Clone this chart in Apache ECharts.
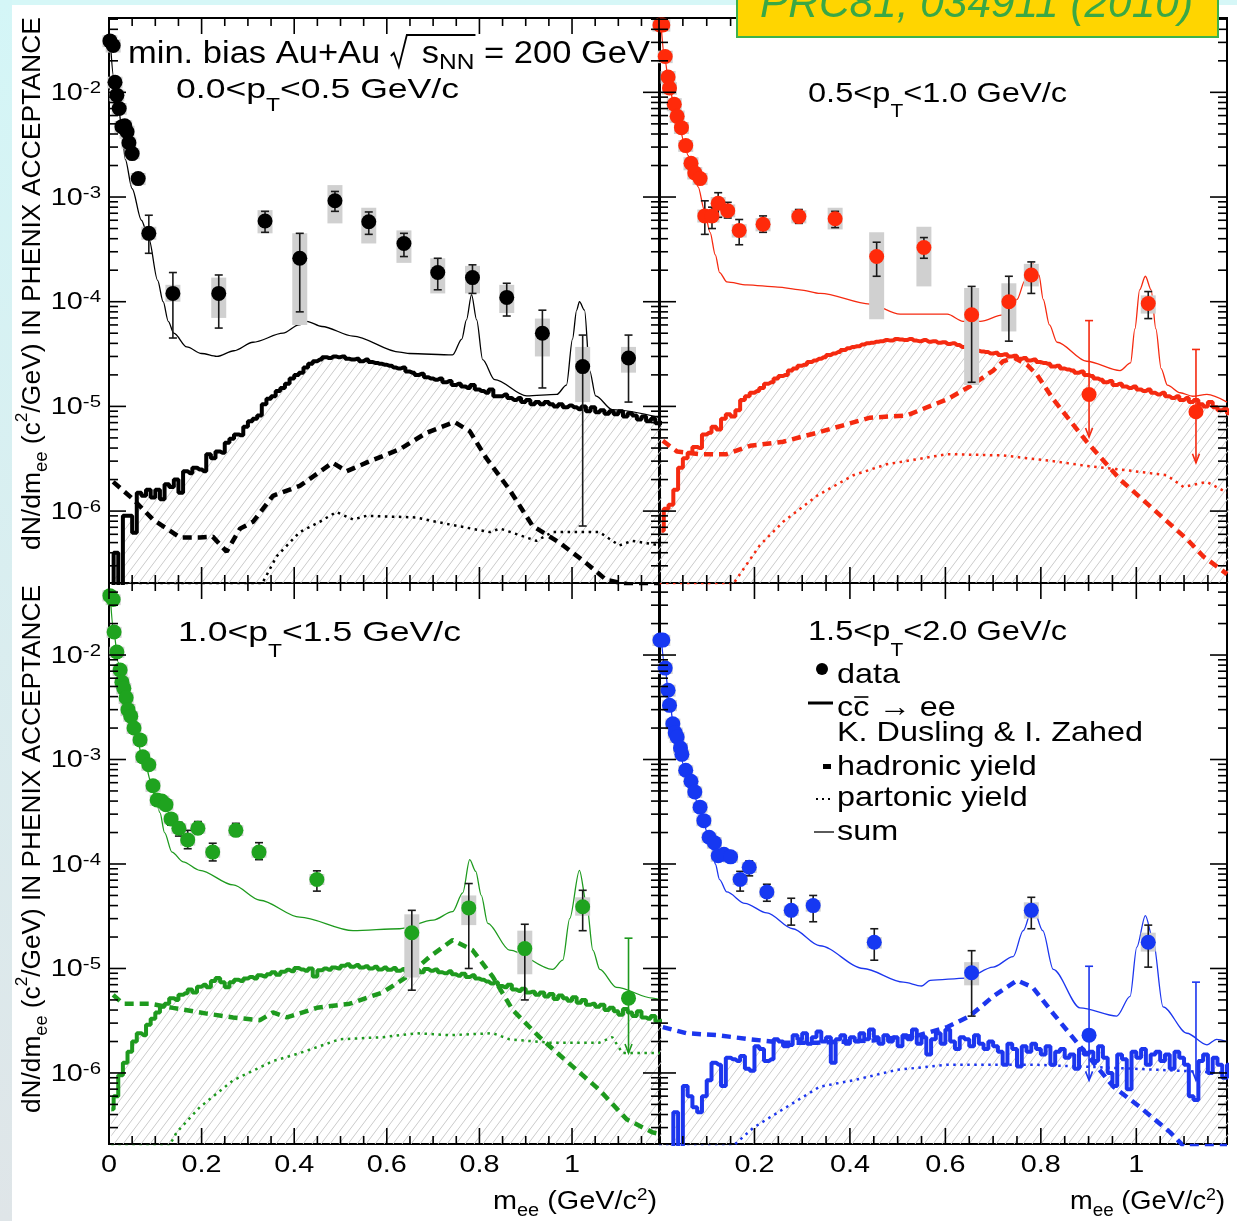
<!DOCTYPE html>
<html>
<head>
<meta charset="utf-8">
<title>Dielectron invariant mass spectra in PHENIX acceptance</title>
<script src="https://cdn.jsdelivr.net/npm/echarts@6/dist/echarts.min.js"></script>
<style>
  html, body { margin: 0; padding: 0; background: #ffffff; }
  #chart { width: 1237px; height: 1221px; }
</style>
</head>
<body>
<div id="chart"></div>
<script>
// ---------------------------------------------------------------------------
// Data: dN/dm_ee (c^2/GeV) in PHENIX acceptance, min. bias Au+Au 200 GeV
// ---------------------------------------------------------------------------

// Panel 1: 0.0 < pT < 0.5 GeV/c
const P1_MASS    = [0.002, 0.009, 0.013, 0.017, 0.022, 0.028, 0.034, 0.039, 0.043, 0.050, 0.063, 0.086, 0.138, 0.237, 0.337, 0.412, 0.488, 0.561, 0.637, 0.710, 0.785, 0.859, 0.936, 1.023, 1.122];
const P1_YIELD   = [0.031, 0.028, 0.0125, 0.0094, 0.0070, 0.0047, 0.0048, 0.0042, 0.0033, 0.0026, 0.0015, 4.5e-4, 1.2e-4, 1.2e-4, 5.9e-4, 2.6e-4, 9.2e-4, 5.8e-4, 3.6e-4, 1.9e-4, 1.7e-4, 1.1e-4, 5.0e-5, 2.4e-5, 2.9e-5];
const P1_STAT_LO = [0.029, 0.026, 0.0117, 0.0088, 0.0066, 0.0044, 0.0045, 0.0039, 0.0031, 0.0024, 0.0014, 2.9e-4, 4.5e-5, 5.6e-5, 4.6e-4, 8.0e-5, 7.3e-4, 4.4e-4, 2.7e-4, 1.3e-4, 1.2e-4, 7.3e-5, 1.5e-5, 7.2e-7, 1.1e-5];
const P1_STAT_HI = [0.033, 0.030, 0.0133, 0.0100, 0.0074, 0.0050, 0.0051, 0.0045, 0.0035, 0.0028, 0.0016, 6.7e-4, 1.9e-4, 1.8e-4, 7.3e-4, 4.5e-4, 1.13e-3, 7.2e-4, 4.5e-4, 2.6e-4, 2.25e-4, 1.5e-4, 8.3e-5, 4.8e-5, 4.8e-5];
const P1_SYS_LO  = [0.027, 0.024, 0.0109, 0.0082, 0.0061, 0.0041, 0.0042, 0.0036, 0.0029, 0.0023, 0.0013, 3.9e-4, 1.0e-4, 7.0e-5, 4.5e-4, 6.0e-5, 5.6e-4, 3.6e-4, 2.35e-4, 1.2e-4, 1.2e-4, 7.8e-5, 3.0e-5, 1.1e-5, 2.1e-5];
const P1_SYS_HI  = [0.035, 0.032, 0.0141, 0.0106, 0.0079, 0.0053, 0.0054, 0.0048, 0.0037, 0.0029, 0.0017, 5.2e-4, 1.45e-4, 1.7e-4, 7.5e-4, 4.5e-4, 1.3e-3, 7.9e-4, 4.8e-4, 2.6e-4, 2.2e-4, 1.45e-4, 6.9e-5, 3.7e-5, 3.7e-5];
const P1_UL_MASS = [], P1_UL_YIELD = [], P1_UL_TOP = [], P1_UL_TIP = [];
const P1_SUM_MASS = [0.003, 0.010, 0.020, 0.030, 0.035, 0.050, 0.070, 0.086, 0.105, 0.117, 0.128, 0.140, 0.168, 0.200, 0.233, 0.270, 0.311, 0.376, 0.410, 0.427, 0.460, 0.527, 0.628, 0.649, 0.742, 0.762, 0.772, 0.783, 0.794, 0.807, 0.833, 0.902, 0.967, 0.988, 1.001, 1.010, 1.016, 1.027, 1.038, 1.051, 1.087, 1.190];
const P1_SUM      = [0.030, 0.014, 0.0075, 0.0035, 0.0023, 0.0012, 6.0e-4, 4.0e-4, 1.6e-4, 1.0e-4, 6.5e-5, 5.0e-5, 3.7e-5, 3.2e-5, 3.0e-5, 3.4e-5, 4.1e-5, 5.0e-5, 6.0e-5, 6.5e-5, 5.8e-5, 4.7e-5, 3.3e-5, 3.2e-5, 3.1e-5, 4.4e-5, 6.7e-5, 1.17e-4, 6.7e-5, 2.8e-5, 1.8e-5, 1.26e-5, 1.3e-5, 1.6e-5, 4.4e-5, 8.3e-5, 1.0e-4, 8.3e-5, 2.2e-5, 1.26e-5, 9.3e-6, 7.8e-6];
const P1_HAD_MASS = [0.009, 0.052, 0.095, 0.153, 0.196, 0.224, 0.254, 0.283, 0.311, 0.354, 0.412, 0.483, 0.513, 0.556, 0.628, 0.686, 0.746, 0.779, 0.815, 0.865, 0.915, 0.973, 1.030, 1.074, 1.120, 1.190];
const P1_HAD      = [1.9e-6, 1.3e-6, 8.3e-7, 5.6e-7, 5.6e-7, 5.7e-7, 4.1e-7, 6.8e-7, 7.9e-7, 1.4e-6, 1.74e-6, 2.9e-6, 2.4e-6, 2.9e-6, 3.9e-6, 5.6e-6, 7.1e-6, 5.8e-6, 3.2e-6, 1.6e-6, 7.2e-7, 5.0e-7, 3.2e-7, 2.2e-7, 2.0e-7, 2.0e-7];
const P1_PART_MASS = [0.005, 0.330, 0.362, 0.412, 0.455, 0.491, 0.527, 0.556, 0.664, 0.700, 0.822, 0.845, 0.923, 0.958, 1.059, 1.102, 1.130, 1.190];
const P1_PART      = [2.0e-7, 2.0e-7, 3.7e-7, 6.3e-7, 7.9e-7, 9.8e-7, 8.3e-7, 9.0e-7, 8.7e-7, 8.0e-7, 6.3e-7, 6.8e-7, 5.2e-7, 6.3e-7, 6.3e-7, 4.7e-7, 5.2e-7, 4.7e-7];
// c cbar -> ee histogram, 0.01 GeV/c^2 bins, in units of 1e-6
const P1_CC = [
  0.18, 0.4, 0.18, 0.9, 0.9, 0.62, 1.5, 1.4, 1.6, 1.35,
  1.6, 1.3, 1.8, 1.7, 2.0, 1.5, 2.4, 2.3, 2.6, 2.5,
  2.4, 3.5, 3.2, 3.7, 3.6, 4.5, 4.9, 5.4, 5.3, 6.4,
  7.2, 7.6, 8.2, 10.5, 11.8, 12.5, 14, 15, 16.5, 18.5,
  20, 21, 23.5, 25.5, 27, 28, 29.5, 29, 30, 29.5,
  30, 28.5, 28, 28.5, 27, 28, 26.5, 26, 25.5, 25,
  24.5, 23.5, 23, 23.5, 21.5, 21, 20, 20.5, 19, 18.5,
  18, 18.5, 17, 17.5, 16, 16.5, 15.5, 15, 16, 14.5,
  14, 13.5, 14.5, 12.5, 12.5, 13, 12, 11.5, 12, 11,
  11.5, 10.5, 11, 10.5, 11, 10.5, 10, 10.5, 9.8, 10.2,
  9.8, 9.4, 10, 9, 9.8, 8.8, 9.2, 8.5, 9, 8.4,
  9, 8, 8.6, 8.2, 7.5, 8, 7.2, 7.6, 6.9, 7
];

// Panel 2: 0.5 < pT < 1.0 GeV/c
const P2_MASS    = [0.002, 0.008, 0.013, 0.019, 0.022, 0.032, 0.038, 0.047, 0.056, 0.067, 0.075, 0.086, 0.096, 0.111, 0.124, 0.144, 0.168, 0.218, 0.293, 0.369, 0.456, 0.555, 0.655, 0.733, 0.780, 1.025];
const P2_YIELD   = [0.044, 0.044, 0.022, 0.014, 0.011, 0.0077, 0.0059, 0.0046, 0.0031, 0.0021, 0.0017, 0.0015, 6.6e-4, 6.6e-4, 8.7e-4, 7.4e-4, 4.8e-4, 5.5e-4, 6.5e-4, 6.2e-4, 2.7e-4, 3.3e-4, 7.5e-5, 1.0e-4, 1.8e-4, 9.6e-5];
const P2_STAT_LO = [0.041, 0.041, 0.0205, 0.013, 0.0102, 0.0072, 0.0055, 0.0043, 0.0029, 0.00195, 0.0016, 0.0014, 4.4e-4, 5.0e-4, 6.4e-4, 6.3e-4, 3.5e-4, 4.6e-4, 5.6e-4, 5.1e-4, 1.75e-4, 2.6e-4, 1.7e-5, 4.2e-5, 1.2e-4, 6.9e-5];
const P2_STAT_HI = [0.047, 0.047, 0.0235, 0.015, 0.0118, 0.0082, 0.0063, 0.0049, 0.0033, 0.00225, 0.0018, 0.0016, 9.2e-4, 8.0e-4, 1.1e-3, 8.9e-4, 6.1e-4, 6.6e-4, 7.6e-4, 7.3e-4, 3.7e-4, 4.1e-4, 1.4e-4, 1.75e-4, 2.4e-4, 1.25e-4];
const P2_SYS_LO  = [0.038, 0.038, 0.019, 0.0121, 0.0095, 0.0066, 0.0051, 0.0040, 0.0027, 0.0018, 0.00147, 0.0013, 5.7e-4, 5.7e-4, 7.5e-4, 6.4e-4, 4.1e-4, 4.7e-4, 5.6e-4, 4.9e-4, 6.8e-5, 1.4e-4, 1.6e-5, 5.2e-5, 1.4e-4, 7.7e-5];
const P2_SYS_HI  = [0.050, 0.050, 0.025, 0.0160, 0.0125, 0.0088, 0.0067, 0.0052, 0.0035, 0.0024, 0.00193, 0.0017, 7.6e-4, 7.6e-4, 1.0e-3, 8.5e-4, 5.5e-4, 6.3e-4, 7.5e-4, 7.9e-4, 4.6e-4, 5.2e-4, 1.35e-4, 1.5e-4, 2.3e-4, 1.15e-4];
const P2_UL_MASS = [0.901, 1.125], P2_UL_YIELD = [1.3e-5, 8.9e-6], P2_UL_TOP = [6.6e-5, 3.5e-5], P2_UL_TIP = [5.1e-6, 2.9e-6];
const P2_SUM_MASS = [0.005, 0.012, 0.022, 0.032, 0.042, 0.051, 0.061, 0.071, 0.082, 0.095, 0.107, 0.118, 0.127, 0.142, 0.184, 0.249, 0.295, 0.338, 0.442, 0.505, 0.604, 0.637, 0.673, 0.721, 0.750, 0.767, 0.784, 0.796, 0.805, 0.818, 0.834, 0.896, 0.966, 0.988, 0.997, 1.007, 1.019, 1.031, 1.041, 1.052, 1.065, 1.092, 1.118, 1.148, 1.190];
const P2_SUM      = [0.040, 0.021, 0.011, 0.0075, 0.0052, 0.0035, 0.0025, 0.0019, 1.25e-3, 7.5e-4, 4.6e-4, 2.8e-4, 1.9e-4, 1.55e-4, 1.45e-4, 1.38e-4, 1.3e-4, 1.2e-4, 9.5e-5, 7.6e-5, 7.6e-5, 6.5e-5, 6.5e-5, 7.5e-5, 1.05e-4, 1.6e-4, 2.3e-4, 1.8e-4, 1.05e-4, 6.0e-5, 4.1e-5, 2.7e-5, 2.2e-5, 2.6e-5, 5.5e-5, 1.3e-4, 1.75e-4, 1.3e-4, 5.5e-5, 2.3e-5, 1.6e-5, 1.35e-5, 1.25e-5, 1.3e-5, 1.1e-5];
const P2_HAD_MASS = [0.008, 0.038, 0.086, 0.142, 0.191, 0.260, 0.331, 0.442, 0.519, 0.604, 0.651, 0.700, 0.721, 0.745, 0.771, 0.792, 0.826, 0.896, 0.966, 1.035, 1.106, 1.140, 1.190];
const P2_HAD      = [4.7e-6, 3.7e-6, 3.5e-6, 3.5e-6, 4.2e-6, 4.6e-6, 5.6e-6, 7.8e-6, 8.2e-6, 1.17e-5, 1.55e-5, 2.2e-5, 2.7e-5, 2.9e-5, 2.5e-5, 2.0e-5, 1.17e-5, 4.6e-6, 2.0e-6, 1.05e-6, 5.4e-7, 3.7e-7, 2.5e-7];
const P2_PART_MASS = [0.000, 0.155, 0.211, 0.260, 0.331, 0.407, 0.477, 0.604, 0.721, 0.826, 0.896, 0.966, 1.064, 1.099, 1.148, 1.190];
const P2_PART      = [2.0e-7, 2.0e-7, 4.7e-7, 7.9e-7, 1.4e-6, 2.2e-6, 2.8e-6, 3.5e-6, 3.4e-6, 3.0e-6, 2.7e-6, 2.5e-6, 2.2e-6, 1.7e-6, 1.9e-6, 1.5e-6];
const P2_CC = [
  0.65, 1.05, 1.15, 1.6, 2.6, 3.2, 3.6, 4.1, 4.0, 5.4,
  5.6, 6.4, 6.0, 7.6, 8.4, 8.0, 9.2, 11.5, 12.5, 13.5,
  14, 15, 16.5, 17, 18.5, 19.5, 20, 22, 23, 24.5,
  25, 26.5, 27.5, 28.5, 29.5, 31, 32, 33, 34.5, 36,
  37, 37.5, 39, 40, 40.5, 41.5, 42, 43, 42.5, 44,
  43.5, 43, 44, 42.5, 42, 43, 41.5, 42, 40.5, 41,
  39.5, 40, 38.5, 37, 37.5, 35.5, 34, 33.5, 33, 32,
  32.5, 31, 31.5, 30, 30.5, 28.5, 29, 27.5, 28, 26.5,
  26, 25.5, 24, 24.5, 23, 22.5, 22, 21, 21.5, 20,
  19.5, 18.5, 18, 17, 17.5, 16, 16.5, 15.5, 15, 15.5,
  14.5, 14, 14.5, 13.5, 13, 13.5, 12.5, 12, 12.5, 11.5,
  12, 11, 11.5, 10.5, 10, 11, 9.8, 9.2, 9.5, 8.6
];

// Panel 3: 1.0 < pT < 1.5 GeV/c
const P3_MASS    = [0.002, 0.009, 0.011, 0.017, 0.024, 0.028, 0.032, 0.037, 0.041, 0.047, 0.054, 0.067, 0.073, 0.086, 0.095, 0.104, 0.114, 0.123, 0.134, 0.151, 0.170, 0.192, 0.224, 0.274, 0.324, 0.449, 0.654, 0.777, 0.898, 1.023];
const P3_YIELD   = [0.037, 0.034, 0.0166, 0.0107, 0.0072, 0.0055, 0.0048, 0.0039, 0.0030, 0.0026, 0.0020, 0.00154, 0.00106, 8.9e-4, 5.6e-4, 4.1e-4, 4.0e-4, 3.7e-4, 2.7e-4, 2.2e-4, 1.7e-4, 2.2e-4, 1.3e-4, 2.1e-4, 1.3e-4, 7.1e-5, 2.2e-5, 3.8e-5, 1.55e-5, 3.9e-5];
const P3_STAT_LO = [0.0348, 0.032, 0.0156, 0.0101, 0.0068, 0.0052, 0.0045, 0.0037, 0.0028, 0.00245, 0.00188, 0.00145, 0.00100, 8.4e-4, 5.3e-4, 3.85e-4, 3.75e-4, 3.45e-4, 2.35e-4, 1.85e-4, 1.4e-4, 1.95e-4, 1.07e-4, 1.85e-4, 1.1e-4, 5.5e-5, 6.2e-6, 1.0e-5, 5.0e-6, 2.3e-5];
const P3_STAT_HI = [0.0392, 0.036, 0.0176, 0.0113, 0.0076, 0.0058, 0.0051, 0.0041, 0.0032, 0.00275, 0.00212, 0.00163, 0.00112, 9.4e-4, 5.9e-4, 4.35e-4, 4.25e-4, 3.95e-4, 3.0e-4, 2.5e-4, 2.1e-4, 2.55e-4, 1.58e-4, 2.45e-4, 1.6e-4, 8.6e-5, 3.6e-5, 6.5e-5, 2.65e-5, 5.6e-5];
const P3_SYS_LO  = [0.0326, 0.030, 0.0146, 0.0094, 0.0063, 0.0048, 0.0042, 0.0034, 0.0026, 0.0023, 0.00176, 0.00136, 9.3e-4, 7.8e-4, 4.9e-4, 3.6e-4, 3.5e-4, 3.25e-4, 2.4e-4, 1.95e-4, 1.5e-4, 1.95e-4, 1.15e-4, 1.85e-4, 1.15e-4, 6.3e-5, 8.2e-6, 2.6e-5, 8.8e-6, 3.2e-5];
const P3_SYS_HI  = [0.0414, 0.038, 0.0186, 0.0120, 0.0081, 0.0062, 0.0054, 0.0044, 0.0034, 0.0029, 0.00224, 0.00172, 1.19e-3, 1.0e-3, 6.3e-4, 4.6e-4, 4.5e-4, 4.15e-4, 3.0e-4, 2.45e-4, 1.9e-4, 2.45e-4, 1.45e-4, 2.35e-4, 1.45e-4, 8.0e-5, 3.3e-5, 5.0e-5, 2.3e-5, 4.8e-5];
const P3_UL_MASS = [1.122], P3_UL_YIELD = [5.2e-6], P3_UL_TOP = [1.95e-5], P3_UL_TIP = [1.55e-6];
const P3_SUM_MASS = [0.003, 0.010, 0.020, 0.030, 0.040, 0.050, 0.060, 0.070, 0.080, 0.090, 0.100, 0.110, 0.120, 0.136, 0.160, 0.196, 0.268, 0.326, 0.412, 0.527, 0.628, 0.700, 0.742, 0.764, 0.779, 0.792, 0.804, 0.818, 0.865, 0.958, 0.980, 0.995, 1.016, 1.032, 1.045, 1.060, 1.096, 1.174, 1.190];
const P3_SUM      = [0.035, 0.017, 0.0085, 0.0050, 0.0031, 0.0021, 0.0016, 0.00115, 8.5e-4, 6.2e-4, 4.3e-4, 3.1e-4, 2.0e-4, 1.3e-4, 1.05e-4, 8.7e-5, 6.3e-5, 4.5e-5, 3.1e-5, 2.3e-5, 2.4e-5, 2.9e-5, 3.5e-5, 5.3e-5, 1.1e-4, 8.5e-5, 5.0e-5, 2.7e-5, 1.5e-5, 9.8e-6, 1.2e-5, 3.0e-5, 8.7e-5, 4.0e-5, 1.5e-5, 9.8e-6, 6.6e-6, 5.2e-6, 5.0e-6];
const P3_HAD_MASS = [0.009, 0.030, 0.088, 0.138, 0.211, 0.268, 0.326, 0.354, 0.384, 0.449, 0.520, 0.591, 0.643, 0.693, 0.742, 0.785, 0.829, 0.872, 0.930, 0.988, 1.059, 1.118, 1.174, 1.190];
const P3_HAD      = [5.6e-6, 4.6e-6, 4.6e-6, 4.2e-6, 3.7e-6, 3.4e-6, 3.2e-6, 3.8e-6, 3.4e-6, 4.2e-6, 4.6e-6, 5.9e-6, 8.3e-6, 1.3e-5, 1.87e-5, 1.5e-5, 8.3e-6, 4.0e-6, 2.2e-6, 1.3e-6, 6.9e-7, 3.6e-7, 2.7e-7, 2.6e-7];
const P3_PART_MASS = [0.005, 0.130, 0.146, 0.196, 0.268, 0.354, 0.412, 0.498, 0.591, 0.664, 0.736, 0.829, 0.865, 0.951, 1.059, 1.087, 1.109, 1.190];
const P3_PART      = [2.0e-7, 2.0e-7, 2.7e-7, 4.7e-7, 8.5e-7, 1.3e-6, 1.55e-6, 2.1e-6, 2.2e-6, 2.4e-6, 2.3e-6, 2.4e-6, 2.1e-6, 1.95e-6, 1.95e-6, 2.2e-6, 1.55e-6, 1.55e-6];
const P3_CC = [
  0.45, 0.6, 0.95, 1.25, 1.6, 2.0, 2.4, 2.3, 2.9, 3.3,
  3.8, 4.3, 4.6, 5.2, 5.0, 5.6, 5.8, 6.3, 5.9, 6.7,
  7.0, 6.6, 7.6, 8.1, 7.4, 6.6, 7.4, 7.8, 7.6, 8.0,
  8.3, 8.0, 8.6, 8.4, 8.8, 9.2, 8.7, 9.3, 9.7, 9.4,
  10.1, 9.8, 9.5, 10.0, 8.4, 9.6, 10.0, 9.7, 10.2, 10.0,
  10.6, 11.0, 10.4, 10.8, 10.2, 10.5, 10.0, 10.4, 9.8, 10.2,
  9.7, 10.1, 9.5, 9.9, 9.3, 9.6, 9.7, 9.2, 9.9, 9.5,
  9.8, 9.2, 9.0, 9.4, 8.8, 8.5, 8.9, 8.3, 8.6, 8.0,
  7.8, 7.5, 7.2, 7.4, 6.8, 6.6, 7.0, 6.3, 6.1, 6.4,
  5.9, 6.0, 5.6, 5.9, 5.4, 5.7, 5.1, 5.5, 5.2, 4.9,
  5.3, 4.7, 5.0, 4.5, 4.6, 4.3, 4.5, 4.0, 4.2, 3.9,
  3.6, 4.1, 3.8, 3.5, 3.9, 3.4, 3.3, 3.5, 3.1, 3.2
];

// Panel 4: 1.5 < pT < 2.0 GeV/c
const P4_MASS    = [0.002, 0.008, 0.013, 0.019, 0.022, 0.029, 0.034, 0.038, 0.045, 0.048, 0.056, 0.067, 0.075, 0.086, 0.094, 0.105, 0.116, 0.124, 0.136, 0.150, 0.170, 0.189, 0.226, 0.277, 0.323, 0.451, 0.655, 0.780, 1.025];
const P4_YIELD   = [0.0139, 0.0139, 0.0075, 0.0046, 0.0033, 0.0022, 0.0018, 0.00164, 0.00129, 0.00112, 7.9e-4, 6.2e-4, 4.9e-4, 3.5e-4, 2.6e-4, 1.8e-4, 1.6e-4, 1.2e-4, 1.24e-4, 1.17e-4, 7.1e-5, 9.3e-5, 5.4e-5, 3.6e-5, 4.0e-5, 1.78e-5, 9.1e-6, 3.6e-5, 1.78e-5];
const P4_STAT_LO = [0.0131, 0.0131, 0.0071, 0.0043, 0.0031, 0.00207, 0.00169, 0.00154, 0.00121, 0.00105, 7.4e-4, 5.8e-4, 4.6e-4, 3.3e-4, 2.45e-4, 1.7e-4, 1.5e-4, 1.1e-4, 1.14e-4, 1.06e-4, 5.5e-5, 7.7e-5, 4.4e-5, 2.6e-5, 2.8e-5, 1.2e-5, 3.5e-6, 2.4e-5, 1.03e-5];
const P4_STAT_HI = [0.0147, 0.0147, 0.0079, 0.0049, 0.0035, 0.00233, 0.00191, 0.00174, 0.00137, 0.00119, 8.4e-4, 6.6e-4, 5.2e-4, 3.7e-4, 2.75e-4, 1.9e-4, 1.7e-4, 1.3e-4, 1.34e-4, 1.28e-4, 8.5e-5, 1.07e-4, 6.4e-5, 4.7e-5, 5.0e-5, 2.4e-5, 1.48e-5, 4.8e-5, 2.6e-5];
const P4_SYS_LO  = [0.0122, 0.0122, 0.0066, 0.0040, 0.0029, 0.00194, 0.00158, 0.00144, 0.00114, 9.9e-4, 7.0e-4, 5.5e-4, 4.3e-4, 3.1e-4, 2.3e-4, 1.6e-4, 1.4e-4, 1.05e-4, 1.09e-4, 1.03e-4, 6.3e-5, 8.2e-5, 4.8e-5, 3.2e-5, 3.5e-5, 1.55e-5, 6.9e-6, 3.0e-5, 1.45e-5];
const P4_SYS_HI  = [0.0156, 0.0156, 0.0084, 0.0052, 0.0037, 0.00246, 0.00202, 0.00184, 0.00144, 0.00125, 8.8e-4, 6.9e-4, 5.5e-4, 3.9e-4, 2.9e-4, 2.0e-4, 1.8e-4, 1.35e-4, 1.39e-4, 1.31e-4, 8.0e-5, 1.04e-4, 6.0e-5, 4.0e-5, 4.5e-5, 2.0e-5, 1.15e-5, 4.3e-5, 2.2e-5];
const P4_UL_MASS = [0.901, 1.125], P4_UL_YIELD = [2.3e-6, null], P4_UL_TOP = [1.05e-5, 7.4e-6], P4_UL_TIP = [8.5e-7, 8.5e-7];
const P4_SUM_MASS = [0.005, 0.012, 0.022, 0.032, 0.042, 0.051, 0.061, 0.071, 0.081, 0.091, 0.101, 0.111, 0.118, 0.127, 0.142, 0.180, 0.226, 0.280, 0.337, 0.428, 0.512, 0.550, 0.568, 0.644, 0.700, 0.742, 0.763, 0.783, 0.804, 0.826, 0.882, 0.959, 0.987, 1.001, 1.019, 1.035, 1.056, 1.106, 1.148, 1.168, 1.190];
const P4_SUM      = [0.014, 0.0078, 0.0036, 0.0019, 0.0013, 9.0e-4, 6.5e-4, 5.0e-4, 3.8e-4, 2.8e-4, 2.0e-4, 1.4e-4, 1.0e-4, 7.1e-5, 5.4e-5, 4.2e-5, 3.4e-5, 2.4e-5, 1.65e-5, 1.0e-5, 7.4e-6, 6.8e-6, 7.7e-6, 8.1e-6, 1.03e-5, 1.3e-5, 2.3e-5, 3.9e-5, 2.3e-5, 9.8e-6, 4.2e-6, 3.5e-6, 5.4e-6, 1.6e-5, 3.2e-5, 1.9e-5, 4.3e-6, 2.4e-6, 1.86e-6, 2.1e-6, 2.0e-6];
const P4_HAD_MASS = [0.008, 0.058, 0.122, 0.191, 0.260, 0.331, 0.447, 0.545, 0.604, 0.651, 0.700, 0.750, 0.783, 0.826, 0.882, 0.952, 1.008, 1.071, 1.099, 1.190];
const P4_HAD      = [2.75e-6, 2.4e-6, 2.3e-6, 2.1e-6, 1.95e-6, 1.95e-6, 2.05e-6, 2.3e-6, 2.75e-6, 3.5e-6, 5.4e-6, 7.7e-6, 6.6e-6, 3.7e-6, 1.8e-6, 7.4e-7, 4.7e-7, 2.7e-7, 2.0e-7, 2.0e-7];
const P4_PART_MASS = [0.000, 0.155, 0.198, 0.260, 0.337, 0.407, 0.498, 0.604, 0.687, 0.783, 0.891, 0.990, 1.089, 1.190];
const P4_PART      = [2.0e-7, 2.0e-7, 3.0e-7, 4.5e-7, 7.4e-7, 8.5e-7, 1.07e-6, 1.2e-6, 1.2e-6, 1.2e-6, 1.15e-6, 1.1e-6, 1.05e-6, 1.0e-6];
const P4_CC = [
  0.15, 0.15, 0.15, 0.42, 0.15, 0.75, 0.6, 0.47, 0.42, 0.6,
  0.85, 1.25, 1.2, 0.75, 1.4, 1.35, 1.3, 1.45, 1.1, 1.05,
  1.8, 1.7, 1.3, 1.35, 2.1, 2.0, 1.8, 1.85, 2.3, 2.1,
  2.4, 1.9, 2.2, 2.5, 2.0, 2.2, 1.25, 2.1, 2.3, 1.9,
  2.2, 2.0, 2.4, 2.1, 2.6, 2.2, 1.9, 2.3, 2.0, 2.2,
  1.8, 2.3, 2.1, 2.6, 1.9, 2.2, 1.5, 2.1, 2.4, 1.9,
  2.6, 2.0, 1.7, 2.2, 2.1, 1.8, 2.3, 1.9, 1.7, 2.0,
  1.8, 1.6, 1.2, 1.9, 1.7, 1.15, 1.8, 1.6, 1.9, 1.7,
  1.5, 1.8, 1.2, 1.6, 1.7, 1.4, 1.5, 1.1, 1.7, 1.5,
  1.6, 1.3, 1.8, 1.4, 1.0, 0.75, 1.5, 1.35, 0.7, 1.6,
  1.4, 1.7, 1.2, 1.5, 1.6, 1.3, 1.5, 1.1, 1.6, 1.4,
  1.2, 0.6, 0.55, 1.3, 1.5, 1.0, 1.4, 1.2, 0.9, 1.2
];
const CC_UNIT = 1e-6;          // histogram values are stored in units of 1e-6
const CC_BIN_WIDTH = 0.01;     // GeV/c^2

// Axis ticks and labels
const X_MAJOR = [0, 0.2, 0.4, 0.6, 0.8, 1.0];
const X_MINOR = [0.05, 0.1, 0.15, 0.25, 0.3, 0.35, 0.45, 0.5, 0.55, 0.65, 0.7, 0.75, 0.85, 0.9, 0.95, 1.05, 1.1, 1.15];
const X_LABEL_VALUES_LEFT  = [0, 0.2, 0.4, 0.6, 0.8, 1.0];
const X_LABELS_LEFT        = ['0', '0.2', '0.4', '0.6', '0.8', '1'];
const X_LABEL_VALUES_RIGHT = [0.2, 0.4, 0.6, 0.8, 1.0];
const X_LABELS_RIGHT       = ['0.2', '0.4', '0.6', '0.8', '1'];
const Y_MAJOR = [1e-6, 1e-5, 1e-4, 1e-3, 1e-2];
const Y_LABEL_EXP = ['-6', '-5', '-4', '-3', '-2'];
const Y_MINOR_MULT = [2, 3, 4, 5, 6, 7, 8, 9];
const Y_MINOR_DECADES = [1e-7, 1e-6, 1e-5, 1e-4, 1e-3, 1e-2];

// ---------------------------------------------------------------------------
// Layout and styles
// ---------------------------------------------------------------------------
const FONT = '"Liberation Sans", Arial, Helvetica, sans-serif';
const MASS_MAX = 1.19;
const TOP_RANGE = [2.056e-7, 0.0513];
const BOTTOM_RANGE = [2.09e-7, 0.0489];
const GRIDS = [
  { left: 109, top: 18,  width: 551, height: 565, range: TOP_RANGE },
  { left: 659, top: 18,  width: 568, height: 565, range: TOP_RANGE },
  { left: 109, top: 583, width: 551, height: 561, range: BOTTOM_RANGE },
  { left: 659, top: 583, width: 568, height: 561, range: BOTTOM_RANGE }
];

const PANELS = [
  { color: '#000000', markColor: '#000000', mass: P1_MASS, y: P1_YIELD, sLo: P1_STAT_LO, sHi: P1_STAT_HI, yLo: P1_SYS_LO, yHi: P1_SYS_HI,
    ulM: P1_UL_MASS, ulY: P1_UL_YIELD, ulTop: P1_UL_TOP, ulTip: P1_UL_TIP,
    sumM: P1_SUM_MASS, sum: P1_SUM, hadM: P1_HAD_MASS, had: P1_HAD, partM: P1_PART_MASS, part: P1_PART, cc: P1_CC,
    yLabels: true, xLabels: null },
  { color: '#f52a10', markColor: '#ff2a0a', mass: P2_MASS, y: P2_YIELD, sLo: P2_STAT_LO, sHi: P2_STAT_HI, yLo: P2_SYS_LO, yHi: P2_SYS_HI,
    ulM: P2_UL_MASS, ulY: P2_UL_YIELD, ulTop: P2_UL_TOP, ulTip: P2_UL_TIP,
    sumM: P2_SUM_MASS, sum: P2_SUM, hadM: P2_HAD_MASS, had: P2_HAD, partM: P2_PART_MASS, part: P2_PART, cc: P2_CC,
    yLabels: false, xLabels: null },
  { color: '#1e9a1e', markColor: '#1fa31f', mass: P3_MASS, y: P3_YIELD, sLo: P3_STAT_LO, sHi: P3_STAT_HI, yLo: P3_SYS_LO, yHi: P3_SYS_HI,
    ulM: P3_UL_MASS, ulY: P3_UL_YIELD, ulTop: P3_UL_TOP, ulTip: P3_UL_TIP,
    sumM: P3_SUM_MASS, sum: P3_SUM, hadM: P3_HAD_MASS, had: P3_HAD, partM: P3_PART_MASS, part: P3_PART, cc: P3_CC,
    yLabels: true, xLabels: [X_LABEL_VALUES_LEFT, X_LABELS_LEFT] },
  { color: '#1c36ee', markColor: '#1638f2', mass: P4_MASS, y: P4_YIELD, sLo: P4_STAT_LO, sHi: P4_STAT_HI, yLo: P4_SYS_LO, yHi: P4_SYS_HI,
    ulM: P4_UL_MASS, ulY: P4_UL_YIELD, ulTop: P4_UL_TOP, ulTip: P4_UL_TIP,
    sumM: P4_SUM_MASS, sum: P4_SUM, hadM: P4_HAD_MASS, had: P4_HAD, partM: P4_PART_MASS, part: P4_PART, cc: P4_CC,
    yLabels: false, xLabels: [X_LABEL_VALUES_RIGHT, X_LABELS_RIGHT] }
];

// Diagonal hatch used under the c cbar histogram
function makeHatch() {
  const w = 9, h = 12;
  const c = document.createElement('canvas');
  c.width = w; c.height = h;
  const g = c.getContext('2d');
  g.strokeStyle = '#cbcbcb';
  g.lineWidth = 1;
  [-w, 0, w].forEach(function (o) {
    g.beginPath(); g.moveTo(o, h); g.lineTo(o + w, 0); g.stroke();
  });
  return c;
}
const HATCH = makeHatch();

// Text measuring / layout helpers
const measureCtx = document.createElement('canvas').getContext('2d');
function fontStr(size, italic) { return (italic ? 'italic ' : '') + size + 'px ' + FONT; }
function textWidth(t, size, italic) { measureCtx.font = fontStr(size, italic); return measureCtx.measureText(t).width; }
function textEl(t, x, y, size, opt) {
  opt = opt || {};
  const al = opt.align || 'left';
  return {
    type: 'text', x: x, y: y, scaleX: opt.sx || 1, silent: true, z: 100,
    style: { text: t, font: fontStr(size, opt.italic), fill: opt.color || '#000',
      align: al, textAlign: al, verticalAlign: 'middle', textVerticalAlign: 'middle' }
  };
}
// Lays out a line made of several pieces (sub/superscripts via size and dy)
function textRun(parts, opt) {
  const sizes = parts.map(function (p) { return p.size || opt.size; });
  const widths = parts.map(function (p, i) { return p.gap != null ? 0 : textWidth(p.t, sizes[i], opt.italic); });
  const natural = widths.reduce(function (a, b) { return a + b; }, 0);
  const gapTotal = parts.reduce(function (a, p) { return a + (p.gap || 0); }, 0);
  const sx = opt.fit ? (opt.fit - gapTotal) / natural : (opt.sx || 1);
  const total = natural * sx + gapTotal;
  let x = opt.align === 'right' ? opt.x - total : (opt.align === 'center' ? opt.x - total / 2 : opt.x);
  const els = [], pos = [];
  parts.forEach(function (p, i) {
    pos.push(x);
    if (p.gap != null) { x += p.gap; return; }
    els.push(textEl(p.t, x, opt.y + (p.dy || 0), sizes[i], { sx: sx, italic: opt.italic, color: opt.color }));
    x += widths[i] * sx;
  });
  pos.push(x);
  return { els: els, pos: pos, sx: sx };
}

// ---------------------------------------------------------------------------
// Series builders
// ---------------------------------------------------------------------------
function pairs(xs, ys) { return xs.map(function (x, i) { return [x, ys[i]]; }); }

function errorBarRenderer(color) {
  return function (params, api) {
    const m = api.value(0);
    const lo = api.coord([m, api.value(1)]);
    const hi = api.coord([m, api.value(2)]);
    const st = { stroke: color, lineWidth: 1.6 };
    return { type: 'group', children: [
      { type: 'line', shape: { x1: lo[0], y1: lo[1], x2: hi[0], y2: hi[1] }, style: st },
      { type: 'line', shape: { x1: hi[0] - 4, y1: hi[1], x2: hi[0] + 4, y2: hi[1] }, style: st },
      { type: 'line', shape: { x1: lo[0] - 4, y1: lo[1], x2: lo[0] + 4, y2: lo[1] }, style: st }
    ] };
  };
}
function sysBoxRenderer(params, api) {
  const m = api.value(0);
  const lo = api.coord([m, api.value(1)]);
  const hi = api.coord([m, api.value(2)]);
  return { type: 'rect', shape: { x: hi[0] - 7.5, y: hi[1], width: 15, height: Math.max(1, lo[1] - hi[1]) },
    style: { fill: '#d0d0d0' } };
}
function upperLimitRenderer(color) {
  return function (params, api) {
    const m = api.value(0);
    const top = api.coord([m, api.value(1)]);
    const tip = api.coord([m, api.value(2)]);
    const st = { stroke: color, lineWidth: 1.6, fill: null };
    return { type: 'group', children: [
      { type: 'line', shape: { x1: top[0], y1: top[1], x2: tip[0], y2: tip[1] }, style: st },
      { type: 'line', shape: { x1: top[0] - 4, y1: top[1], x2: top[0] + 4, y2: top[1] }, style: st },
      { type: 'polyline', shape: { points: [[tip[0] - 3.5, tip[1] - 9], [tip[0], tip[1]], [tip[0] + 3.5, tip[1] - 9]] }, style: st }
    ] };
  };
}
function tickRenderer(panel, range) {
  return function (params, api) {
    const cs = params.coordSys;
    const L = cs.x, R = cs.x + cs.width, T = cs.y, B = cs.y + cs.height;
    const ch = [];
    const st = { stroke: '#000', lineWidth: 1.6 };
    function seg(x1, y1, x2, y2) { ch.push({ type: 'line', shape: { x1: x1, y1: y1, x2: x2, y2: y2 }, style: st }); }
    const yRef = 1e-4, xRef = 0.5;
    X_MAJOR.forEach(function (v) { const x = api.coord([v, yRef])[0]; seg(x, B, x, B - 16); seg(x, T, x, T + 16); });
    X_MINOR.forEach(function (v) { const x = api.coord([v, yRef])[0]; seg(x, B, x, B - 8); seg(x, T, x, T + 8); });
    Y_MAJOR.forEach(function (v) { const y = api.coord([xRef, v])[1]; seg(L, y, L + 17, y); seg(R, y, R - 17, y); });
    Y_MINOR_DECADES.forEach(function (d) {
      Y_MINOR_MULT.forEach(function (k) {
        const v = k * d;
        if (v <= range[0] || v >= range[1]) return;
        const y = api.coord([xRef, v])[1];
        seg(L, y, L + 9, y); seg(R, y, R - 9, y);
      });
    });
    if (panel.yLabels) {
      Y_MAJOR.forEach(function (v, i) {
        const y = api.coord([xRef, v])[1];
        const sx = 1.2;
        const supW = textWidth(Y_LABEL_EXP[i], 17) * sx;
        const baseW = textWidth('10', 24) * sx;
        const supX = L - 8 - supW;
        ch.push(textEl(Y_LABEL_EXP[i], supX, y - 4, 17, { sx: sx }));
        ch.push(textEl('10', supX - baseW, y + 1, 24, { sx: sx }));
      });
    }
    if (panel.xLabels) {
      panel.xLabels[0].forEach(function (v, i) {
        const x = api.coord([v, yRef])[0];
        ch.push(textEl(panel.xLabels[1][i], x, B + 21, 24, { sx: 1.2, align: 'center' }));
      });
    }
    return { type: 'group', children: ch };
  };
}

const series = [];
PANELS.forEach(function (p, gi) {
  const axes = { xAxisIndex: gi, yAxisIndex: gi };
  const range = GRIDS[gi].range;
  // c cbar -> ee histogram with hatched fill
  series.push(Object.assign({
    type: 'line', step: 'middle', symbol: 'none', silent: true, clip: true, z: 2,
    data: p.cc.map(function (v, i) { return [(i + 0.5) * CC_BIN_WIDTH, v * CC_UNIT]; }),
    lineStyle: { color: p.color, width: 4 },
    areaStyle: { color: { image: HATCH, repeat: 'repeat' }, opacity: 1, origin: 'start' }
  }, axes));
  // partonic yield
  series.push(Object.assign({
    type: 'line', symbol: 'none', silent: true, clip: true, z: 3, data: pairs(p.partM, p.part),
    lineStyle: { color: p.color, width: 2.5, type: [2.5, 4.5] }
  }, axes));
  // hadronic yield
  series.push(Object.assign({
    type: 'line', symbol: 'none', silent: true, clip: true, z: 3, data: pairs(p.hadM, p.had),
    lineStyle: { color: p.color, width: 4.5, type: [9, 6] }
  }, axes));
  // sum
  series.push(Object.assign({
    type: 'line', symbol: 'none', silent: true, clip: true, z: 4, smooth: 0.3, smoothMonotone: 'x',
    data: pairs(p.sumM, p.sum), lineStyle: { color: p.color, width: 1.3 }
  }, axes));
  // systematic boxes
  series.push(Object.assign({
    type: 'custom', silent: true, z: 5, renderItem: sysBoxRenderer, encode: { x: 0, y: [1, 2] },
    data: p.mass.map(function (m, i) { return [m, p.yLo[i], p.yHi[i]]; })
  }, axes));
  // statistical error bars
  series.push(Object.assign({
    type: 'custom', silent: true, z: 6, renderItem: errorBarRenderer('#1a1a1a'), encode: { x: 0, y: [1, 2] },
    data: p.mass.map(function (m, i) { return [m, p.sLo[i], p.sHi[i]]; })
  }, axes));
  // upper limits
  if (p.ulM.length) {
    series.push(Object.assign({
      type: 'custom', silent: true, z: 6, renderItem: upperLimitRenderer(p.color), encode: { x: 0, y: [1, 2] },
      data: p.ulM.map(function (m, i) { return [m, p.ulTop[i], p.ulTip[i]]; })
    }, axes));
  }
  // data points
  const pts = pairs(p.mass, p.y);
  p.ulM.forEach(function (m, i) { if (p.ulY[i] != null) pts.push([m, p.ulY[i]]); });
  series.push(Object.assign({
    type: 'scatter', symbol: 'circle', symbolSize: 15, silent: true, z: 7, data: pts,
    itemStyle: { color: p.markColor, opacity: 1 }
  }, axes));
  // axis ticks and tick labels
  series.push(Object.assign({
    type: 'custom', silent: true, z: 8, clip: false, renderItem: tickRenderer(p, range),
    encode: { x: 0, y: 1 }, data: [[0.5, 1e-4]]
  }, axes));
});

// ---------------------------------------------------------------------------
// Static texts, legend and decorations
// ---------------------------------------------------------------------------
const graphics = [];
// page border tint
graphics.push({ type: 'rect', z: 1, silent: true, shape: { x: 0, y: 0, width: 1237, height: 5 }, style: { fill: '#d6f7f7' } });
graphics.push({ type: 'rect', z: 1, silent: true, shape: { x: 0, y: 0, width: 12, height: 1221 },
  style: { fill: { type: 'linear', x: 0, y: 0, x2: 0, y2: 1, colorStops: [{ offset: 0, color: '#d4f6f7' }, { offset: 1, color: '#dfe5e8' }] } } });

// y-axis titles (rotated)
function yTitle(cy, fit) {
  const run = textRun([{ t: 'dN/dm' }, { t: 'ee', size: 18, dy: 9 }, { t: ' (c' }, { t: '2', size: 17, dy: -11 }, { t: '/GeV) IN PHENIX ACCEPTANCE' }],
    { x: 0, y: 0, size: 26, align: 'center', fit: fit });
  return { type: 'group', x: 33, y: cy, rotation: Math.PI / 2, z: 100, children: run.els };
}
graphics.push(yTitle(283.5, 533));
graphics.push(yTitle(849, 528));

// x-axis titles
function xTitle(xr, fit) {
  return textRun([{ t: 'm' }, { t: 'ee', size: 18, dy: 9 }, { t: ' (GeV/c' }, { t: '2', size: 17, dy: -7 }, { t: ')' }],
    { x: xr, y: 1202, size: 26, align: 'right', fit: fit }).els;
}
Array.prototype.push.apply(graphics, xTitle(657, 164));
Array.prototype.push.apply(graphics, xTitle(1225, 155));

// collision system title with square-root sign
const sysRun = textRun([{ t: 'min. bias Au+Au ' }, { gap: 32 }, { t: 's' }, { t: 'NN', size: 22, dy: 9 }, { t: ' = 200 GeV' }],
  { x: 128, y: 54, size: 31, fit: 522 });
Array.prototype.push.apply(graphics, sysRun.els);
(function () {
  const r0 = sysRun.pos[1] + 1, end = sysRun.pos[4] + 1;
  graphics.push({ type: 'polyline', z: 100, silent: true,
    shape: { points: [[r0, 56], [r0 + 3, 53], [r0 + 8, 67], [r0 + 16, 35], [end, 35]] },
    style: { stroke: '#000', lineWidth: 1.8, fill: null } });
})();

// pT ranges
function ptLabel(x, y, lo, hi, fit, subDy) {
  return textRun([{ t: lo + '<p' }, { t: 'T', size: 18, dy: subDy }, { t: '<' + hi + ' GeV/c' }], { x: x, y: y, size: 28, fit: fit }).els;
}
Array.prototype.push.apply(graphics, ptLabel(176, 90, '0.0', '0.5', 283, 16));
Array.prototype.push.apply(graphics, ptLabel(808, 94, '0.5', '1.0', 259, 18));
Array.prototype.push.apply(graphics, ptLabel(178, 633, '1.0', '1.5', 283, 19));
Array.prototype.push.apply(graphics, ptLabel(808, 632, '1.5', '2.0', 259, 19));

// legend
const LEG_X = 837;
const legRef = textRun([{ t: 'K. Dusling & I. Zahed' }], { x: LEG_X, y: 733, size: 28, fit: 306 });
const legSx = legRef.sx;
Array.prototype.push.apply(graphics, legRef.els);
Array.prototype.push.apply(graphics, textRun([{ t: 'data' }], { x: LEG_X, y: 675, size: 28, sx: legSx }).els);
const ccRun = textRun([{ t: 'cc' }, { t: ' \u2192 ee' }], { x: LEG_X, y: 708, size: 28, sx: legSx });
Array.prototype.push.apply(graphics, ccRun.els);
(function () {
  const cw = textWidth('c', 28) * legSx;
  graphics.push({ type: 'line', z: 100, silent: true,
    shape: { x1: ccRun.pos[1] - cw + 1, y1: 697, x2: ccRun.pos[1] - 1, y2: 697 }, style: { stroke: '#000', lineWidth: 1.6 } });
})();
Array.prototype.push.apply(graphics, textRun([{ t: 'hadronic yield' }], { x: LEG_X, y: 767, size: 28, sx: legSx }).els);
Array.prototype.push.apply(graphics, textRun([{ t: 'partonic yield' }], { x: LEG_X, y: 798, size: 28, sx: legSx }).els);
Array.prototype.push.apply(graphics, textRun([{ t: 'sum' }], { x: LEG_X, y: 832, size: 28, sx: legSx }).els);
graphics.push({ type: 'circle', z: 100, silent: true, shape: { cx: 822, cy: 669, r: 6 }, style: { fill: '#000' } });
graphics.push({ type: 'line', z: 100, silent: true, shape: { x1: 808, y1: 703, x2: 833, y2: 703 }, style: { stroke: '#000', lineWidth: 3 } });
graphics.push({ type: 'rect', z: 100, silent: true, shape: { x: 823, y: 764, width: 8, height: 5 }, style: { fill: '#000' } });
graphics.push({ type: 'line', z: 100, silent: true, shape: { x1: 816, y1: 799, x2: 834, y2: 799 }, style: { stroke: '#000', lineWidth: 2, lineDash: [2, 4] } });
graphics.push({ type: 'line', z: 100, silent: true, shape: { x1: 814, y1: 832, x2: 834, y2: 832 }, style: { stroke: '#000', lineWidth: 1.3 } });

// journal reference box
graphics.push({ type: 'rect', z: 110, silent: true, shape: { x: 737, y: -4, width: 481, height: 41 },
  style: { fill: '#ffd500', stroke: '#3db24b', lineWidth: 2 } });
(function () {
  const run = textRun([{ t: 'PRC81, 034911 (2010)' }], { x: 760, y: 5, size: 42, italic: true, fit: 433, color: '#3aa845' });
  run.els.forEach(function (e) { e.z = 111; });
  Array.prototype.push.apply(graphics, run.els);
})();

// ---------------------------------------------------------------------------
// Chart
// ---------------------------------------------------------------------------
const chart = echarts.init(document.getElementById('chart'), null, { renderer: 'canvas' });
const hiddenAxis = { axisLine: { show: false }, axisTick: { show: false }, axisLabel: { show: false }, splitLine: { show: false } };
chart.setOption({
  animation: false,
  backgroundColor: '#ffffff',
  grid: GRIDS.map(function (g) {
    return { left: g.left, top: g.top, width: g.width, height: g.height, show: true,
      borderColor: '#000', borderWidth: 2, backgroundColor: 'rgba(0,0,0,0)', containLabel: false, outerBoundsMode: 'none' };
  }),
  xAxis: GRIDS.map(function (g, i) {
    return Object.assign({ type: 'value', gridIndex: i, min: 0, max: MASS_MAX }, hiddenAxis);
  }),
  yAxis: GRIDS.map(function (g, i) {
    return Object.assign({ type: 'log', logBase: 10, gridIndex: i, min: g.range[0], max: g.range[1] }, hiddenAxis);
  }),
  series: series,
  graphic: { elements: graphics }
});
</script>
</body>
</html>
